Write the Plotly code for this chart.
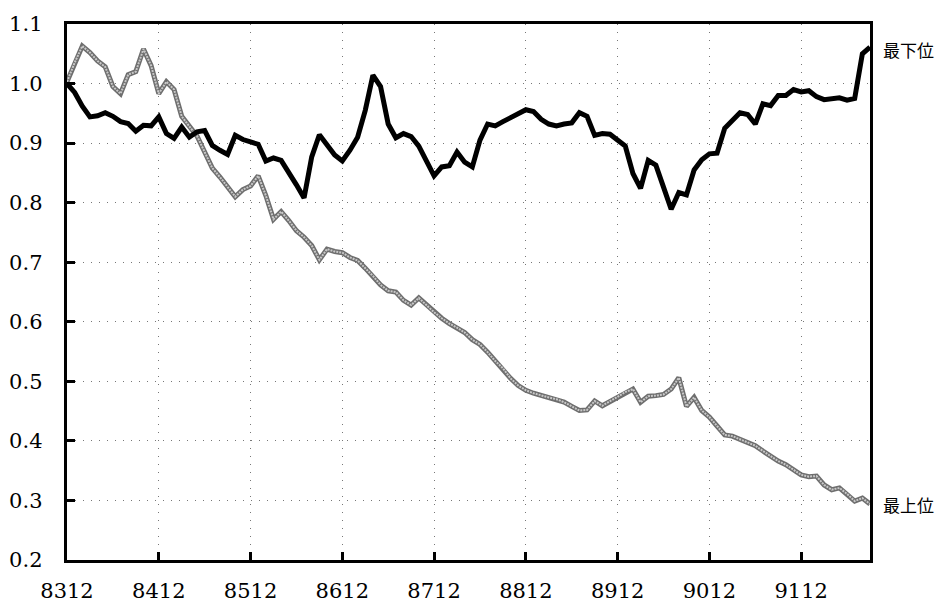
import plotly.graph_objects as go

# Monthly index from 8312 (index 0) to 9209 (index 105)
month_index = list(range(106))

tick_positions = [0, 12, 24, 36, 48, 60, 72, 84, 96]
tick_labels = ["8312", "8412", "8512", "8612", "8712", "8812", "8912", "9012", "9112"]

lowest_rank = [  # 最下位 (black)
    1.000, 0.985, 0.962, 0.944, 0.946, 0.951, 0.945, 0.936, 0.933, 0.920,
    0.930, 0.929, 0.944, 0.916, 0.908, 0.927, 0.910, 0.919, 0.921, 0.896,
    0.888, 0.881, 0.913, 0.906, 0.902, 0.898, 0.870, 0.875, 0.871, 0.852,
    0.830, 0.808, 0.877, 0.914, 0.898, 0.880, 0.870, 0.888, 0.910, 0.955,
    1.014, 0.995, 0.932, 0.909, 0.916, 0.911, 0.895, 0.868, 0.845, 0.860,
    0.862, 0.885, 0.868, 0.860, 0.905, 0.932, 0.929, 0.936, 0.942, 0.950,
    0.956, 0.953, 0.940, 0.932, 0.929, 0.932, 0.934, 0.951, 0.945, 0.913,
    0.916, 0.915, 0.906, 0.895, 0.849, 0.824, 0.871, 0.863, 0.826, 0.789,
    0.817, 0.813, 0.855, 0.872, 0.882, 0.883, 0.925, 0.938, 0.951, 0.948,
    0.932, 0.966, 0.963, 0.980, 0.980, 0.990, 0.986, 0.988, 0.978, 0.973,
    0.975, 0.976, 0.972, 0.975, 1.050, 1.061,
]

highest_rank = [  # 最上位 (gray)
    1.003, 1.035, 1.063, 1.052, 1.038, 1.028, 0.995, 0.983, 1.015, 1.020,
    1.058, 1.030, 0.983, 1.003, 0.990, 0.945, 0.928, 0.912, 0.885, 0.858,
    0.843, 0.826, 0.810, 0.822, 0.828, 0.845, 0.812, 0.772, 0.785, 0.770,
    0.753, 0.742, 0.728, 0.704, 0.722, 0.718, 0.716, 0.708, 0.703, 0.690,
    0.677, 0.662, 0.652, 0.650, 0.636, 0.628, 0.640, 0.628, 0.616, 0.606,
    0.597, 0.590, 0.582, 0.570, 0.562, 0.549, 0.534, 0.522, 0.505, 0.493,
    0.485, 0.480, 0.476, 0.473, 0.470, 0.465, 0.458, 0.451, 0.452, 0.467,
    0.459, 0.466, 0.474, 0.482, 0.487, 0.465, 0.475, 0.476, 0.478, 0.487,
    0.506, 0.458, 0.473, 0.451, 0.440, 0.425, 0.410, 0.408, 0.403, 0.397,
    0.392, 0.383, 0.374, 0.366, 0.360, 0.352, 0.343, 0.340, 0.341, 0.326,
    0.318, 0.321, 0.311, 0.299, 0.304, 0.294,
]

y_ticks = [0.2, 0.3, 0.4, 0.5, 0.6, 0.7, 0.8, 0.9, 1.0, 1.1]
y_tick_labels = ["0.2", "0.3", "0.4", "0.5", "0.6", "0.7", "0.8", "0.9", "1.0", "1.1"]

SERIF = "DejaVu Serif"

fig = go.Figure()
fig.add_trace(go.Scatter(
    x=month_index, y=highest_rank, mode="lines",
    line=dict(color="#6e6e6e", width=5), showlegend=False,
))
fig.add_trace(go.Scatter(
    x=month_index, y=highest_rank, mode="lines",
    line=dict(color="#c8c8c8", width=2, dash="2px,1px"), showlegend=False,
))
fig.add_trace(go.Scatter(
    x=month_index, y=lowest_rank, mode="lines",
    line=dict(color="#000000", width=5), showlegend=False,
))

fig.add_annotation(x=1, xref="paper", y=lowest_rank[-1], yref="y",
                   text="最下位", showarrow=False, xanchor="left", xshift=11,
                   yshift=-2,
                   font=dict(family="Noto Sans CJK JP", size=17, color="black"))
fig.add_annotation(x=1, xref="paper", y=highest_rank[-1], yref="y",
                   text="最上位", showarrow=False, xanchor="left", xshift=11,
                   font=dict(family="Noto Sans CJK JP", size=17, color="black"))

axis_common = dict(
    showline=True, linecolor="black", linewidth=2.5, mirror=True,
    showgrid=True, gridcolor="#777777", gridwidth=1, griddash="1px,7px",
    ticks="inside", ticklen=8, tickwidth=3, tickcolor="black",
    zeroline=False,
    tickfont=dict(family=SERIF, size=21, color="black"),
)

fig.update_xaxes(range=[0, 105], tickmode="array", tickvals=tick_positions,
                 ticktext=tick_labels, ticklabelstandoff=10, **axis_common)
fig.update_yaxes(range=[0.2, 1.1], tickmode="array", tickvals=y_ticks,
                 ticktext=[t + "\u00a0\u00a0\u2009" for t in y_tick_labels],
                 **axis_common)

# page body has an 8px default margin, compensate in the figure margins
fig.update_layout(
    width=952, height=605,
    margin=dict(l=59, r=90, t=16, b=53, autoexpand=False),
    plot_bgcolor="white", paper_bgcolor="white",
    font=dict(family=SERIF, size=21, color="black"),
)

fig.write_html("out.html")
